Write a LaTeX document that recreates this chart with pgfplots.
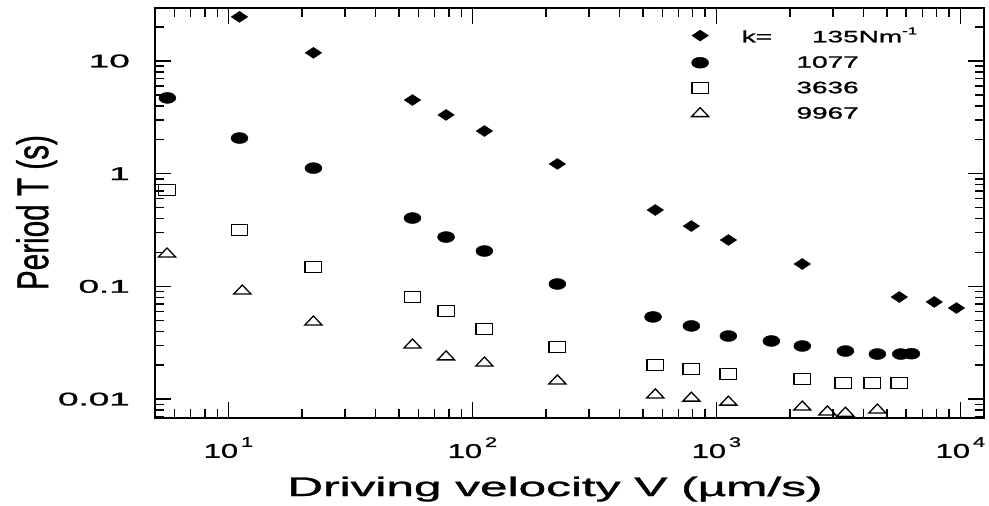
\documentclass[border=0pt]{standalone}
\usepackage{pgfplots}
\pgfplotsset{compat=1.18}
\usepackage{graphicx}
\usepackage{fontspec}
\setmainfont{Liberation Sans}[FakeBold=1]
\newcommand{\hs}[2]{\scalebox{#1}[1]{#2}}
\newcommand{\xsup}[1]{\hs{1.55}{10}\hspace{3bp}\raisebox{11bp}{\fontsize{14}{14}\selectfont\hs{1.55}{#1}}}
\newcommand{\ys}[1]{\hs{2}{#1}}
\newcommand{\legtxt}[2]{\makebox[55bp][l]{\hs{1.7}{#1}}\makebox[62bp][r]{\hs{1.7}{#2}}}
\pgfplotsset{
  major tick length=16bp,
  minor tick length=9bp,
  every tick/.append style={black, line width=1.5bp},
}
\begin{document}
\begin{tikzpicture}
\begin{axis}[
  scale only axis, width=829bp, height=410bp,
  xmode=log, ymode=log,
  xmin=5.0, xmax=12500, ymin=0.0068, ymax=29.5,
  axis line style={line width=1.6bp},
  at={(0,0)}, anchor=south west,
  xtick={10,100,1000,10000},
  xticklabels={\xsup{1},\xsup{2},\xsup{3},\xsup{4}},
  minor xtick={6,7,8,9,20,30,40,50,60,70,80,90,200,300,400,500,600,700,800,900,2000,3000,4000,5000,6000,7000,8000,9000},
  xticklabel style={font=\fontsize{20}{20}\selectfont, anchor=north, inner sep=0pt, yshift=-19bp},
  ytick={0.01,0.1,1,10},
  yticklabels={\ys{0.01},\ys{0.1},\ys{1},\ys{10}},
  minor ytick={0.007,0.008,0.009,0.02,0.03,0.04,0.05,0.06,0.07,0.08,0.09,0.2,0.3,0.4,0.5,0.6,0.7,0.8,0.9,2,3,4,5,6,7,8,9,20},
  yticklabel style={font=\fontsize{18.5}{18.5}\selectfont, anchor=east, inner sep=0pt, xshift=-25bp},
  xlabel={\resizebox{535bp}{19.4bp}{Driving velocity V (µm/s)}},
  xlabel style={anchor=base, at={(axis description cs:0.4825,0)}, yshift=-78bp, inner sep=0pt},
  ylabel={\resizebox{155bp}{32bp}{Period T (s)}},
  ylabel style={anchor=base, at={(axis description cs:-0.129,0.501)}, inner sep=0pt},
  legend style={draw=none, fill=none, at={(0.647,0.958)}, anchor=north west, inner sep=0pt,
    font=\fontsize{16.5}{16.5}\selectfont, column sep=31bp, row sep=8.5bp},
  legend cell align=left,
]
\addplot[only marks, mark=diamond*, mark size=5.5bp, mark options={xscale=2, fill=black, draw=black}] coordinates {
(11.1,24.6) (22.3,11.8) (56.8,4.5) (78,3.32) (112,2.39) (223,1.22) (562,0.476) (790,0.343) (1120,0.258) (2250,0.158) (5620,0.0805) (7820,0.0728) (9640,0.0643)};
\addlegendentry{\legtxt{k=}{135}\hs{1.7}{Nm}\raisebox{8bp}{\fontsize{10}{10}\selectfont\hs{1.7}{-1}}}
\addplot[only marks, mark=*, mark size=5.5bp, mark options={xscale=1.55, fill=black, draw=black}] coordinates {
(5.62,4.7) (11.1,2.07) (22.3,1.12) (56.8,0.404) (78,0.274) (112,0.206) (223,0.105) (550,0.0536) (790,0.0446) (1120,0.0363) (1680,0.0328) (2250,0.0296) (3380,0.0267) (4570,0.0251) (5700,0.0251) (6300,0.0253)};
\addlegendentry{\legtxt{}{1077}}
\addplot[only marks, mark=square, mark size=5.5bp, mark options={xscale=1.5, line width=1.4bp, draw=black}] coordinates {
(5.6,0.717) (11.1,0.316) (22.3,0.149) (56.8,0.0805) (78,0.0605) (112,0.0419) (223,0.029) (562,0.0201) (790,0.0185) (1120,0.0167) (2250,0.0151) (3310,0.0139) (4350,0.0139) (5620,0.0139)};
\addlegendentry{\legtxt{}{3636}}
\addplot[only marks, mark=triangle, mark size=6bp, mark options={xscale=1.65, line width=1.3bp, draw=black}] coordinates {
(5.6,0.194) (11.4,0.091) (22.3,0.0483) (56.8,0.0302) (78,0.0237) (112,0.0209) (223,0.0145) (562,0.0109) (790,0.0102) (1120,0.0094) (2250,0.0085) (2850,0.0077) (3380,0.0075) (4570,0.008)};
\addlegendentry{\legtxt{}{9967}}
\end{axis}
\pgfresetboundingbox
\path[use as bounding box] (-155bp,-88bp) rectangle (834bp,418bp);
\end{tikzpicture}
\end{document}
